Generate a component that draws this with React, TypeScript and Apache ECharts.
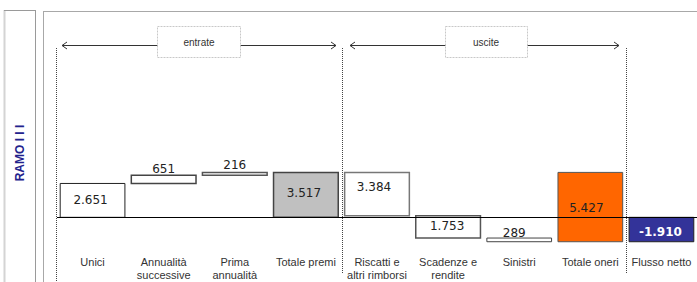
import React, { useEffect, useRef } from "react";
import * as echarts from "echarts";

const categories = [
  "Unici",
  "Annualità\nsuccessive",
  "Prima\nannualità",
  "Totale premi",
  "Riscatti e\naltri rimborsi",
  "Scadenze e\nrendite",
  "Sinistri",
  "Totale oneri",
  "Flusso netto",
];
// values
const values = [2651, 651, 216, 3517, 3384, 1753, 289, 5427, -1910];
// role of each step in the waterfall
const kinds = ["up", "up", "up", "total", "down", "down", "down", "outTotal", "net"];
const valueLabels = ["2.651", "651", "216", "3.517", "3.384", "1.753", "289", "5.427", "-1.910"];

const sectionTitles = ["entrate", "uscite"];
const sideTitle = "RAMO I I I";

// styles (not data)
const fills = ["#ffffff", "#ffffff", "#ffffff", "#c0c0c0", "#ffffff", "#ffffff", "#ffffff", "#ff6600", "#333399"];
const strokes = ["#222222", "#444444", "#555555", "#444444", "#777777", "#555555", "#444444", "#555555", "#222222"];
const strokeWidths = [1, 1.5, 1.5, 1.5, 1.5, 1.5, 1, 1, 1];
const labelDx = [-2, 0, 0, -2, -3, -1, -5, -4, -1];
const labelDy = [0, -10, -9, -2, -7, -1, -7, 1, 2];
const labelColors = ["#222", "#222", "#222", "#222", "#222", "#222", "#222", "#222", "#ffffff"];
const labelWeights = ["normal", "normal", "normal", "normal", "normal", "normal", "normal", "normal", "bold"];

const FONT = '"Liberation Sans", Arial, sans-serif';
const NUM_FONT = '"DejaVu Sans", Verdana, sans-serif';

function buildRanges() {
  const out: [number, number, number][] = [];
  let running = 0;
  let premi = 0;
  values.forEach((v, i) => {
    const k = kinds[i];
    let lo = 0;
    let hi = 0;
    if (k === "up") {
      lo = running;
      hi = running + v;
      running = hi;
    } else if (k === "total") {
      lo = 0;
      hi = v;
      premi = v;
      running = v;
    } else if (k === "down") {
      hi = running;
      lo = running - v;
      running = lo;
    } else if (k === "outTotal") {
      hi = premi;
      lo = premi - v;
    } else {
      lo = Math.min(0, v);
      hi = Math.max(0, v);
    }
    out.push([i, lo, hi]);
  });
  return out;
}

export default function App() {
  const ref = useRef<HTMLDivElement>(null);
  useEffect(() => {
    if (!ref.current) return;
    const chart = echarts.init(ref.current, null, { renderer: "svg" });
    const data = buildRanges();
    const dotted = { stroke: "#444", lineWidth: 1, lineDash: [1, 1] };
    const option: any = {
      animation: false,
      backgroundColor: "#ffffff",
      grid: { left: 57, right: 0, top: 64, bottom: 34 },
      xAxis: {
        type: "category",
        data: categories,
        boundaryGap: true,
        axisLine: { show: false },
        axisTick: { show: false },
        splitLine: { show: false },
        axisLabel: {
          interval: 0,
          fontSize: 11,
          lineHeight: 13,
          color: "#333",
          fontFamily: FONT,
          margin: 7,
        },
      },
      yAxis: {
        type: "value",
        min: -2400,
        max: 12000,
        show: false,
        splitLine: { show: false },
      },
      series: [
        {
          type: "custom",
          data,
          encode: { x: 0, y: [1, 2] },
          renderItem: (params: any, api: any) => {
            const idx = api.value(0);
            const lo = api.value(1);
            const hi = api.value(2);
            const pTop = api.coord([idx, hi]);
            const pBot = api.coord([idx, lo]);
            const w = api.size([1, 0])[0] * 0.91;
            const i = params.dataIndex;
            const cy = (pTop[1] + pBot[1]) / 2;
            return {
              type: "group",
              children: [
                {
                  type: "rect",
                  shape: { x: pTop[0] - w / 2, y: pTop[1], width: w, height: pBot[1] - pTop[1] },
                  style: { fill: fills[i], stroke: strokes[i], lineWidth: strokeWidths[i] },
                },
                {
                  type: "text",
                  x: pTop[0] + labelDx[i],
                  y: cy + labelDy[i],
                  style: {
                    text: valueLabels[i],
                    fill: labelColors[i],
                    font: `${labelWeights[i]} 12px ${NUM_FONT}`,
                    align: "center",
                    verticalAlign: "middle",
                  },
                },
              ],
            };
          },
          z: 3,
        },
        {
          type: "line",
          data: [],
          markLine: {
            silent: true,
            symbol: "none",
            label: { show: false },
            lineStyle: { color: "#000", width: 1, type: "solid" },
            data: [{ yAxis: 0 }],
          },
          z: 2,
        },
      ],
      graphic: [
        // side panel frames
        { type: "line", shape: { x1: 4.5, y1: 10, x2: 4.5, y2: 282 }, style: { stroke: "#d4d4d4", lineWidth: 2 } },
        { type: "line", shape: { x1: 4, y1: 10.5, x2: 35, y2: 10.5 }, style: { stroke: "#9a9a9a", lineWidth: 1 } },
        { type: "line", shape: { x1: 35.5, y1: 10, x2: 35.5, y2: 282 }, style: { stroke: "#9a9a9a", lineWidth: 1 } },
        { type: "line", shape: { x1: 43.5, y1: 11, x2: 43.5, y2: 282 }, style: { stroke: "#a8a8a8", lineWidth: 1 } },
        { type: "line", shape: { x1: 43, y1: 11.5, x2: 697, y2: 11.5 }, style: { stroke: "#a8a8a8", lineWidth: 1 } },
        {
          type: "text",
          x: 20,
          y: 153,
          rotation: Math.PI / 2,
          style: {
            text: sideTitle,
            font: `bold 12px ${FONT}`,
            fill: "#22228c",
            align: "center",
            verticalAlign: "middle",
          },
        },
        // dotted separators
        { type: "line", shape: { x1: 56.5, y1: 48, x2: 56.5, y2: 281 }, style: dotted },
        { type: "line", shape: { x1: 342.5, y1: 48, x2: 342.5, y2: 273 }, style: dotted },
        { type: "line", shape: { x1: 626.5, y1: 48, x2: 626.5, y2: 273 }, style: dotted },
        // entrate arrow
        { type: "line", shape: { x1: 62, y1: 45.5, x2: 336, y2: 45.5 }, style: { stroke: "#333", lineWidth: 1 } },
        { type: "polyline", shape: { points: [[67, 42], [62, 45.5], [67, 49]] }, style: { stroke: "#333", lineWidth: 1, fill: null } },
        { type: "polyline", shape: { points: [[331, 42], [336, 45.5], [331, 49]] }, style: { stroke: "#333", lineWidth: 1, fill: null } },
        { type: "rect", shape: { x: 157.5, y: 26.5, width: 83, height: 31 }, style: { fill: "#fff", stroke: "#c8c8c8", lineWidth: 1, lineDash: [2, 1] } },
        {
          type: "text",
          x: 199,
          y: 42,
          style: { text: sectionTitles[0], font: `10px ${FONT}`, fill: "#333", align: "center", verticalAlign: "middle" },
        },
        // uscite arrow
        { type: "line", shape: { x1: 350, y1: 45.5, x2: 619, y2: 45.5 }, style: { stroke: "#333", lineWidth: 1 } },
        { type: "polyline", shape: { points: [[355, 42], [350, 45.5], [355, 49]] }, style: { stroke: "#333", lineWidth: 1, fill: null } },
        { type: "polyline", shape: { points: [[614, 42], [619, 45.5], [614, 49]] }, style: { stroke: "#333", lineWidth: 1, fill: null } },
        { type: "rect", shape: { x: 445.5, y: 26.5, width: 82, height: 31 }, style: { fill: "#fff", stroke: "#c8c8c8", lineWidth: 1, lineDash: [2, 1] } },
        {
          type: "text",
          x: 486,
          y: 42,
          style: { text: sectionTitles[1], font: `10px ${FONT}`, fill: "#333", align: "center", verticalAlign: "middle" },
        },
      ],
    };
    chart.setOption(option);
    return () => chart.dispose();
  }, []);
  return (
    <div
      ref={ref}
      style={{ position: "fixed", left: 0, top: 0, width: 697, height: 282, background: "#fff" }}
    />
  );
}
